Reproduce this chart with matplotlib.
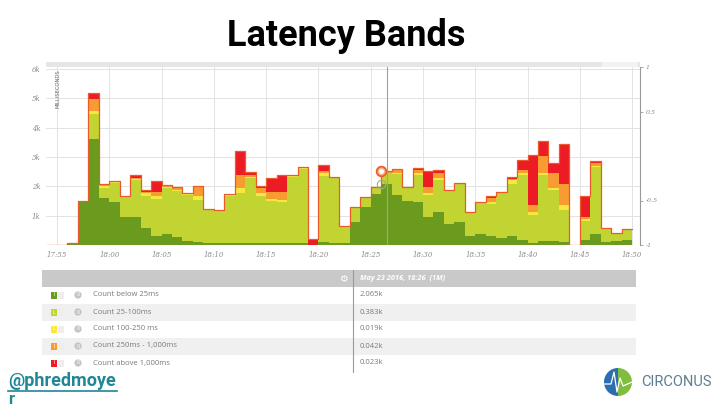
import numpy as np
import matplotlib.pyplot as plt
from matplotlib.patches import Rectangle, Circle, Wedge

# minutes after 17:55, one bar per minute
minutes = list(range(-1, 55))
below_25 = [0, 0, 0.08, 1.45, 3.62, 1.60, 1.45, 0.95, 0.95, 0.57, 0.32, 0.37, 0.26, 0.14,
            0.11, 0.08, 0.06, 0.08, 0.08, 0.08, 0.07, 0.08, 0.06, 0.06, 0.06, 0, 0.11,
            0.08, 0.06, 0.80, 1.30, 1.75, 2.065, 1.70, 1.50, 1.45, 0.95, 1.14, 0.72,
            0.80, 0.29, 0.38, 0.30, 0.23, 0.29, 0.17, 0.06, 0.14, 0.14, 0.11, 0, 0.17,
            0.38, 0.11, 0.14, 0.17]
ms_25_100 = [0, 0, 0, 0.04, 0.86, 0.34, 0.68, 0.67, 1.27, 1.11, 1.26, 1.57, 1.57, 1.57,
             1.43, 1.12, 1.09, 1.58, 1.71, 2.21, 1.61, 1.43, 1.39, 2.26, 2.53, 0, 2.26,
             2.21, 0.58, 0.47, 0.29, 0.20, 0.383, 0.72, 0.45, 0.93, 0.76, 1.07, 1.12,
             1.29, 0.82, 1.06, 1.11, 1.56, 1.80, 2.21, 0.97, 2.24, 1.72, 1.09, 0, 0.66,
             2.27, 0.46, 0.26, 0.37]
ms_100_250 = [0, 0, 0, 0, 0.09, 0.06, 0.02, 0.02, 0.03, 0.09, 0.08, 0.04, 0.05, 0.03,
              0.14, 0.01, 0.01, 0.03, 0.15, 0.04, 0.11, 0.06, 0.07, 0.04, 0.02, 0, 0.07,
              0.01, 0, 0.01, 0.01, 0.01, 0.019, 0.05, 0.01, 0.09, 0.08, 0.08, 0.01,
              0.01, 0, 0.01, 0.04, 0.01, 0.13, 0.08, 0.09, 0.08, 0.10, 0.17, 0, 0.06,
              0.06, 0, 0, 0]
ms_250_1000 = [0, 0, 0, 0.01, 0.42, 0.04, 0.01, 0.01, 0.02, 0.05, 0.14, 0.04, 0.07, 0.02,
               0.29, 0.01, 0.01, 0.02, 0.46, 0.07, 0.17, 0.23, 0.28, 0.02, 0.03, 0, 0.09,
               0.01, 0, 0.01, 0.01, 0, 0.042, 0.08, 0, 0.08, 0.18, 0.16, 0, 0, 0, 0,
               0.15, 0, 0.03, 0.11, 0.23, 0.57, 0.51, 0.71, 0, 0.08, 0.09, 0, 0, 0]
above_1000 = [0, 0, 0, 0.01, 0.21, 0.04, 0.01, 0.01, 0.11, 0.04, 0.37, 0.03, 0.02, 0.01,
              0.03, 0.01, 0.01, 0.03, 0.80, 0.09, 0.06, 0.49, 0.58, 0.02, 0.01, 0.19, 0.21,
              0, 0.01, 0, 0.01, 0.01, 0.023, 0.05, 0.01, 0.08, 0.57, 0.12, 0.01, 0.01,
              0.01, 0.01, 0.08, 0.01, 0.07, 0.34, 1.71, 0.51, 0.33, 1.38, 0, 0.71, 0.08,
              0, 0, 0]

band_labels = ['Count below 25ms', 'Count 25-100ms', 'Count 100-250 ms',
               'Count 250ms - 1,000ms', 'Count above 1,000ms']
band_colors = ['#6a9b1f', '#c1d431', '#f6e83c', '#f89b32', '#ec1c24']
band_letters = ['I', 'L', 'L', 'I', 'I']
hover_values = ['2.065k', '0.383k', '0.019k', '0.042k', '0.023k']
hover_minute = 31
cursor_minute = 31.6
tick_minutes = list(range(0, 56, 5))
tick_labels = ['17:55', '18:00', '18:05', '18:10', '18:15', '18:20',
               '18:25', '18:30', '18:35', '18:40', '18:45', '18:50']

fig = plt.figure(figsize=(7.2, 4.05), dpi=100)

# pixel-space layer for the slide decorations and the legend table
bg = fig.add_axes([0, 0, 1, 1])
bg.set_xlim(0, 720)
bg.set_ylim(405, 0)
bg.axis('off')

bg.text(346, 36, 'Latency Bands', fontsize=26, fontweight='bold', family='Roboto',
        ha='center', va='center', color='black')

bg.add_patch(Rectangle((46, 62), 594, 5, color='#e6e6e6', lw=0))
bg.add_patch(Rectangle((602, 62), 36, 5, color='#f2f2f2', lw=0))
bg.text(628, 78, '⋮', fontsize=6, ha='center', va='center', color='#555555')

# table
tx0, tx1, div = 42, 636, 353
bg.add_patch(Rectangle((tx0, 270), tx1 - tx0, 17, color='#c9c9c9', lw=0))
bg.text(343, 279, '⚙', fontsize=7, ha='center', va='center', color='white')
bg.text(360, 278.5, 'May 23 2016, 18:26  (1M)', fontsize=5.3, style='italic',
        fontweight='bold', family='Open Sans', ha='left', va='center', color='white')
for i, (lab, col, let, val) in enumerate(zip(band_labels, band_colors, band_letters, hover_values)):
    y0 = 287 + 17 * i
    if i % 2 == 1:
        bg.add_patch(Rectangle((tx0, y0), tx1 - tx0, 17, color='#f0f0f0', lw=0))
    yc = y0 + 8
    bg.add_patch(Rectangle((51, yc - 3.5), 6, 7, color=col, lw=0))
    bg.text(54, yc, let, fontsize=3.5, ha='center', va='center', color='white')
    bg.add_patch(Rectangle((58, yc - 3.5), 6, 7, color='#eeeeee', lw=0))
    bg.add_patch(Circle((78, yc), 3.6, color='#c4c4c4', lw=0))
    bg.text(78, yc, '0', fontsize=3.5, ha='center', va='center', color='white')
    bg.text(93, yc, lab, fontsize=5.5, family='Open Sans', ha='left', va='center',
            color='#7a7a7a')
    bg.text(360, yc, val, fontsize=5.5, family='Open Sans', ha='left', va='center',
            color='#7a7a7a')
bg.plot([div, div], [270, 372], color='#9a9a9a', lw=0.8)

# twitter handle and logo
bg.text(8, 381, '@phredmoye', fontsize=13, fontweight='bold', family='Roboto',
        color='#1f8796', ha='left', va='center')
bg.plot([8, 117], [390.5, 390.5], color='#1f8796', lw=1.2)
bg.text(8, 404, 'r', fontsize=12, fontweight='bold', family='Roboto',
        color='#1f8796', ha='left', va='baseline')
bg.add_patch(Wedge((618, 382), 14, 90, 270, color='#2b6eb0', lw=0))
bg.add_patch(Wedge((618, 382), 14, -90, 90, color='#7fbd3e', lw=0))
bg.plot([604, 611, 614, 617, 620, 623, 632], [384, 384, 372, 392, 378, 386, 382],
        color='white', lw=0.9)
bg.text(641, 382, 'CIRCONUS', fontsize=10.5, family='Roboto', color='#5d7e8e',
        ha='left', va='center')

# chart
ax = fig.add_axes([46 / 720, 1 - 245 / 405, 594 / 720, 178 / 405])
x = np.array(minutes)
bottom = np.zeros(len(x))
for vals, col in zip([below_25, ms_25_100, ms_100_250, ms_250_1000, above_1000], band_colors):
    vals = np.array(vals)
    ax.bar(x, vals, width=1, align='edge', bottom=bottom, color=col, lw=0, zorder=2)
    bottom = bottom + vals
xs = np.r_[x, x[-1] + 1]
ax.step(xs, np.r_[bottom, bottom[-1]], where='post', color='#ea5a2a', lw=0.9, zorder=3)

ax.set_xlim(-1.05, 55.75)
ax.set_ylim(0, 6.07)
ax.set_xticks(tick_minutes)
ax.set_xticklabels(tick_labels)
ax.set_yticks([1, 2, 3, 4, 5, 6])
ax.set_yticklabels(['1k', '2k', '3k', '4k', '5k', '6k'])
ax.tick_params(length=0, labelsize=5, labelcolor='#8a8a8a', pad=4)
for t in ax.get_xticklabels() + ax.get_yticklabels():
    t.set_family('DejaVu Serif')
    t.set_style('italic')
ax.grid(True, color='#e3e3e3', lw=0.7, zorder=0)
for s in ax.spines.values():
    s.set_visible(False)
ax.text(0.05, 6.0, 'MILLISECONDS', rotation=90, fontsize=3.8,
        ha='center', va='top', color='#666666')

ax.axvline(cursor_minute, color='#a0a0a0', lw=0.8, zorder=4)
tot = bottom[minutes.index(hover_minute)]
dark = below_25[minutes.index(hover_minute)]
ax.plot([hover_minute], [tot], 'o', ms=7, mfc='#f6b08a', mec='#ea5a2a', mew=1.2, zorder=5)
ax.plot([hover_minute], [tot], 'o', ms=2.5, color='white', zorder=6)
ax.plot([hover_minute], [dark], 'o', ms=6, mfc='none', mec='#9db07a', mew=0.8, zorder=5)

ax2 = ax.twinx()
ax2.set_ylim(-1, 1)
ax2.set_yticks([1, 0.5, -0.5, -1])
ax2.set_yticklabels(['1', '0.5', '-0.5', '-1'])
ax2.tick_params(length=2, width=0.6, color='#999999', labelsize=4.5, labelcolor='#8a8a8a', pad=2)
for t in ax2.get_yticklabels():
    t.set_family('DejaVu Serif')
    t.set_style('italic')
for k, s in ax2.spines.items():
    s.set_visible(k == 'right')
ax2.spines['right'].set_color('#999999')
ax2.spines['right'].set_linewidth(0.8)

fig.savefig('out.png', dpi=100)
